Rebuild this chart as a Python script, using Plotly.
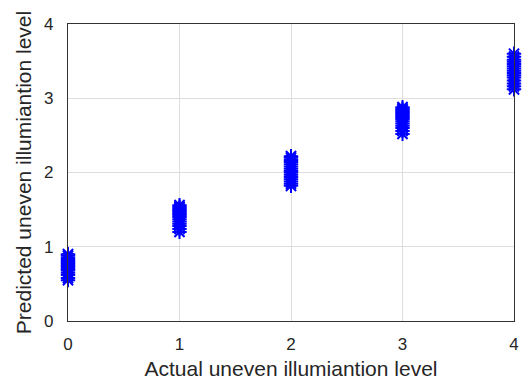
import plotly.graph_objects as go

actual_levels = [0, 1, 2, 3, 4]
pred_level0 = [0.55, 0.58, 0.62, 0.65, 0.68, 0.70, 0.72, 0.74, 0.76, 0.78, 0.80, 0.82, 0.85, 0.88, 0.90]
pred_level1 = [1.20, 1.24, 1.28, 1.31, 1.34, 1.37, 1.40, 1.42, 1.44, 1.46, 1.48, 1.50, 1.52, 1.54, 1.56]
pred_level2 = [1.82, 1.85, 1.88, 1.91, 1.94, 1.97, 2.00, 2.02, 2.05, 2.08, 2.11, 2.14, 2.17, 2.20, 2.22]
pred_level3 = [2.52, 2.56, 2.60, 2.63, 2.66, 2.69, 2.72, 2.74, 2.76, 2.78, 2.80, 2.82, 2.84, 2.86, 2.88]
pred_level4 = [3.12, 3.16, 3.20, 3.24, 3.28, 3.31, 3.34, 3.37, 3.40, 3.43, 3.46, 3.49, 3.52, 3.56, 3.60]
preds = [pred_level0, pred_level1, pred_level2, pred_level3, pred_level4]

xs, ys = [], []
for lvl, vals in zip(actual_levels, preds):
    xs += [lvl] * len(vals)
    ys += vals

fig = go.Figure(go.Scatter(
    x=xs, y=ys, mode="markers",
    marker=dict(symbol="asterisk-open", size=12, color="#0000FF",
                line=dict(color="#0000FF", width=2)),
    cliponaxis=False, showlegend=False))

tick_font = dict(family="Liberation Sans, Arial, sans-serif", size=17, color="#262626")
title_font = dict(family="Liberation Sans, Arial, sans-serif", size=21, color="#262626")
axis_common = dict(showgrid=True, gridcolor="#DEDEDE", gridwidth=1,
                   showline=True, linecolor="#333333", linewidth=1.3, mirror=True,
                   zeroline=False, ticks="", tickfont=tick_font, dtick=1,
                   automargin=False)
fig.update_xaxes(range=[0, 4], title=dict(text="Actual uneven illumiantion level", font=title_font, standoff=8),
                 ticklabelstandoff=7, **axis_common)
fig.update_yaxes(range=[0, 4], title=dict(text="Predicted uneven illumiantion level", font=title_font, standoff=6),
                 ticklabelstandoff=10, **axis_common)
fig.update_layout(width=530, height=384, margin=dict(l=60, r=24, t=16, b=71),
                  plot_bgcolor="white", paper_bgcolor="white", font=tick_font)
fig.write_html("out.html")
